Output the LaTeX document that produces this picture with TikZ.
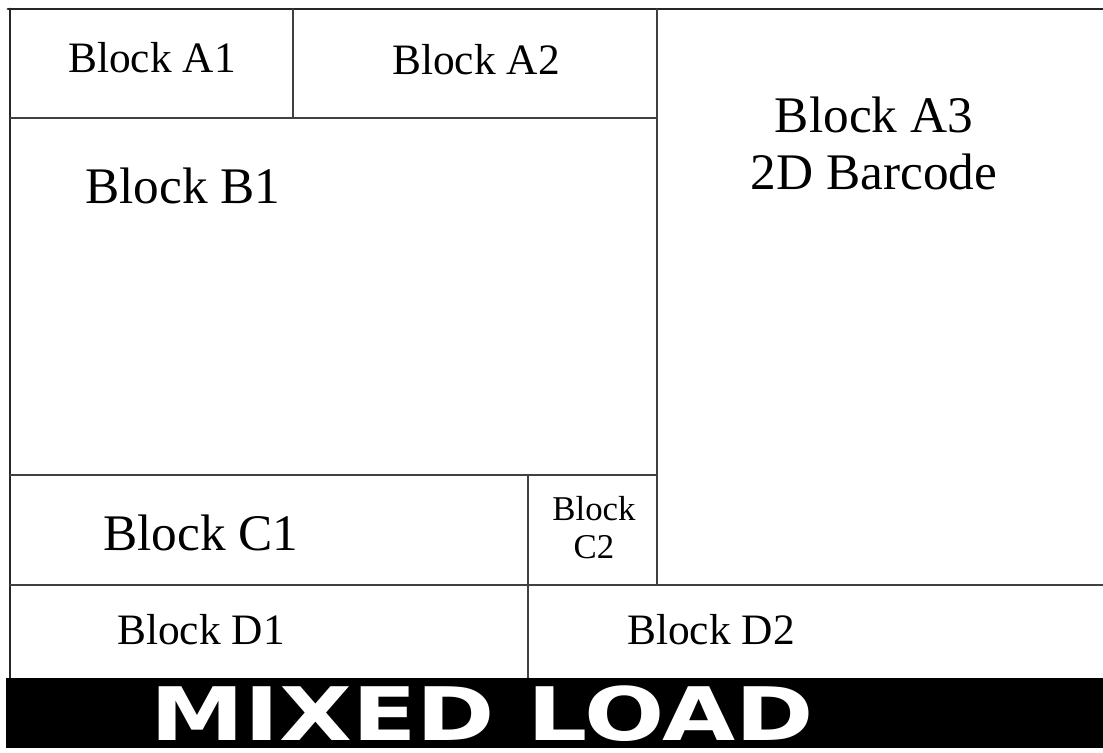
\documentclass[tikz,border=0pt]{standalone}
\usepackage{fontspec}
\setmainfont{Liberation Serif}
\newfontfamily\bandfont{DejaVu Sans}
\begin{document}
\begin{tikzpicture}[x=0.02cm, y=-0.02cm, line join=round, line cap=round,
		cell/.style={anchor=base, inner sep=0pt, font=\fontsize{24.7}{27}\selectfont},
		bigcell/.style={cell, align=center, font=\fontsize{29.2}{32.5}\selectfont},
		smallcell/.style={cell, align=center, font=\fontsize{19.8}{21.6}\selectfont},
		rule/.style={line width=0.8pt, black!75}]
			\useasboundingbox (0,0) rectangle (1103,753);
			
			% frame
			\draw[line width=1.7pt, black!85] (8,9)--(1103,9);
			\draw[line width=1.6pt, black!85] (10,9)--(10,678);
			
			% cells
			\draw[rule] (293,9)--(293,118);
			\draw[rule] (10,118)--(657,118);
			\draw[rule] (657,9)--(657,585);
			\draw[rule] (10,475)--(657,475);
			\draw[rule] (528,475)--(528,678);
			\draw[rule] (10,585)--(1103,585);
			
			% band
			\fill (6,678) rectangle (1103,748);
			
			\node[cell] (a1) at (152,73) {Block A1};
			\node[cell] (a2) at (476,75) {Block A2};
			\node[bigcell] (a3) at (874,190) {Block A3\\2D Barcode};
			\node[bigcell] (b1) at (183,204) {Block B1};
			\node[bigcell] (c1) at (201,550) {Block C1};
			\node[smallcell] (c2) at (594,558) {Block\\C2};
			\node[cell] (d1) at (201,644) {Block D1};
			\node[cell] (d2) at (711,644) {Block D2};
			\node[anchor=base, inner sep=0pt, text depth=0pt, text height=31pt, text=white, font=\bandfont\bfseries\fontsize{42}{45}\selectfont] (load) at (482,740) {\scalebox{1.28}[1]{MIXED LOAD}};
			
		\end{tikzpicture}
\end{document}
